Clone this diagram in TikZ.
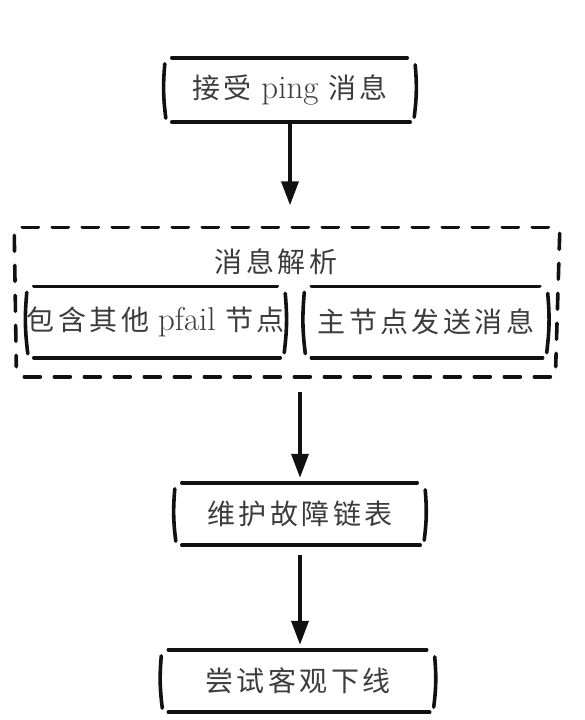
\documentclass[tikz,border=0pt]{standalone}
\usepackage{fontspec}
\usetikzlibrary{arrows.meta,positioning,calc}
\newfontfamily\cjk[LetterSpace=12]{Noto Sans CJK SC}
\newcommand{\zh}[1]{{\fontsize{28}{30}\cjk #1}}
\definecolor{inkLine}{HTML}{111111}
\definecolor{inkText}{HTML}{3C3C3C}

\tikzset{
  stage/.style={minimum height=64pt,inner sep=0pt,text=inkText,
                font=\fontsize{33}{36}\selectfont},
  sketch/.style={line width=3.6pt,draw=inkLine,line cap=round},
  flow/.style={line width=3.6pt,draw=inkLine,
               -{Triangle[length=24pt,width=17pt]}},
  dashes/.style={line width=3.6pt,draw=inkLine,line cap=round,
                 dash pattern=on 16pt off 14pt}
}
% hand drawn frame round a node: two long lines, two brackets
\newcommand{\sketchframe}[1]{%
  \draw[sketch] ($(#1.north west)+(7,0)$) -- ($(#1.north east)+(-8,0)$);
  \draw[sketch] ($(#1.south west)+(7,0)$) -- ($(#1.south east)+(-5,0)$);
  \draw[sketch] ($(#1.north west)+(0,6)$) to[bend right=6] ($(#1.south west)+(1,-4)$);
  \draw[sketch] ($(#1.north east)+(0,7)$) to[bend left=6] ($(#1.south east)+(-1,-5)$);
}

\begin{document}
\begin{tikzpicture}[x=1pt,y=-1pt]
  \useasboundingbox (0,0) rectangle (584,720);

  % nodes
  \node[stage,minimum width=250pt] (recv) at (290,90)
    {\zh{接受} ping \zh{消息}};

  \node[minimum width=545pt,minimum height=149pt,inner sep=0pt] (parse) at (287,302) {};
  \node[text=inkText] (parselbl) at (276,262) {\zh{消息解析}};
  \node[stage,minimum width=257pt,minimum height=71pt] (pfail) at (156,322)
    {\zh{包含其他}\hspace{9pt}pfail \zh{节点}};
  \node[stage,minimum width=243pt,minimum height=71pt] (master) at (426,322)
    {\zh{主节点发送消息}};

  \node[stage,minimum width=250pt,minimum height=62pt] (keep) at (300,514)
    {\zh{维护故障链表}};
  \node[stage,minimum width=273pt,minimum height=62pt] (offline) at (298,681)
    {\zh{尝试客观下线}};

  % frames
  \foreach \n in {recv,pfail,master,keep,offline}
    \sketchframe{\n};

  \draw[dashes] ($(parse.north west)+(8,0)$) -- ($(parse.north east)+(-6,0)$);
  \draw[dashes] ($(parse.south west)+(10,0)$) -- ($(parse.south east)+(-4,0)$);
  \draw[dashes] ($(parse.north west)+(0,8)$) -- ($(parse.south west)+(2,-10)$);
  \draw[dashes] ($(parse.north east)+(0,6)$) -- ($(parse.south east)+(-4,-10)$);

  % arrows
  \draw[flow,shorten >=22pt] (recv.south) -- (recv.south |- parse.north);
  \draw[flow,shorten <=15pt,shorten >=5pt] (keep.north |- parse.south) -- (keep.north);
  \draw[flow,shorten <=10pt,shorten >=5pt] (keep.south) -- (keep.south |- offline.north);
\end{tikzpicture}
\end{document}
